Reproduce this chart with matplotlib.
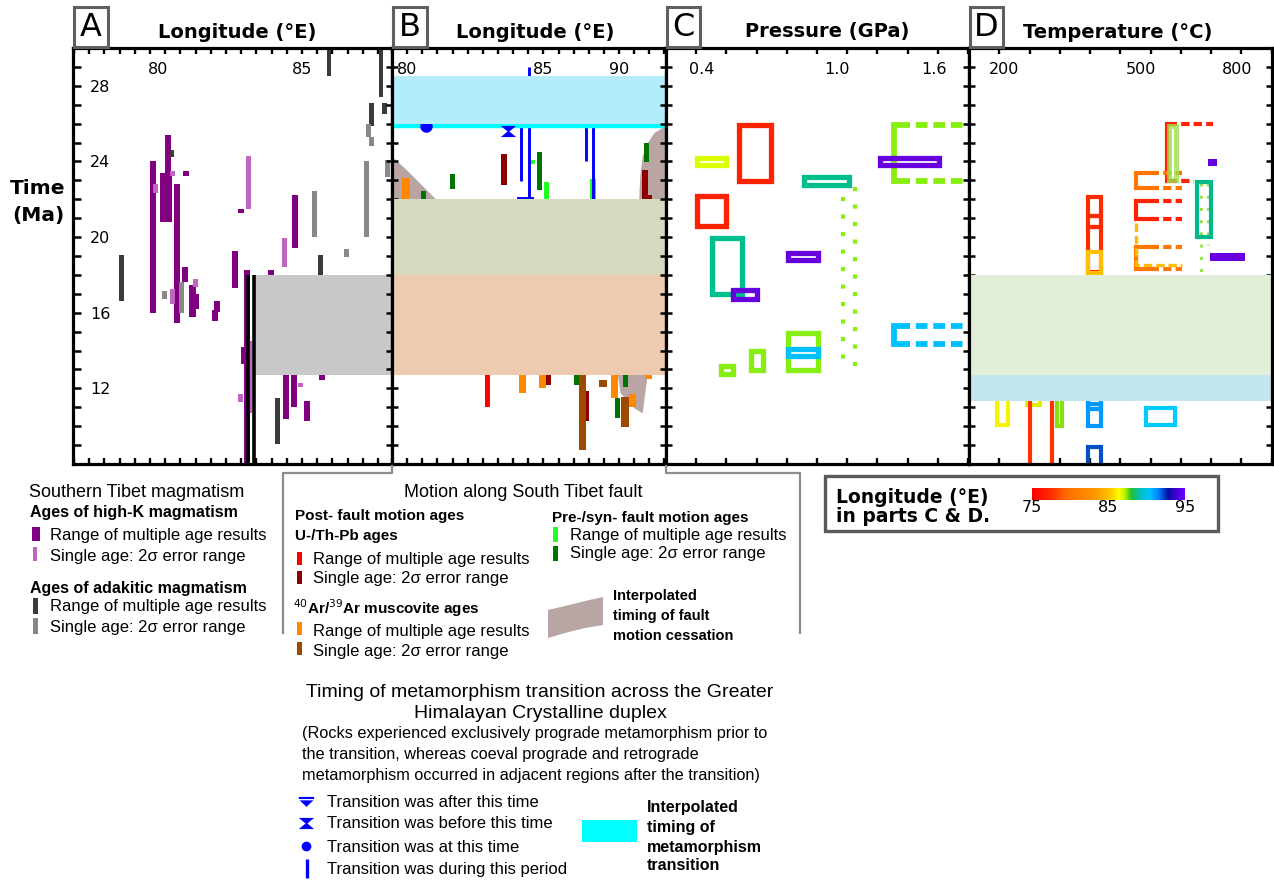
import matplotlib
matplotlib.use('Agg')
import matplotlib.pyplot as plt
import matplotlib.colors as mcolors
from matplotlib.patches import Rectangle, Polygon
from matplotlib.lines import Line2D
from matplotlib.path import Path
from matplotlib.ticker import FixedLocator, MultipleLocator
import numpy as np

plt.rcParams['font.family'] = ['DejaVu Sans']

# ============================ DATA ============================
TIME_LIM = (8.0, 30.0)
TIME_LABELS = [12, 16, 20, 24, 28]

# ---- Panel A: southern Tibet magmatism (longitude °E, youngest Ma, oldest Ma)
highK_range = [(80.10, 16.0, 24.0), (80.42, 20.8, 23.4), (80.62, 20.8, 23.4), (80.58, 23.4, 25.4),
               (80.90, 15.45, 22.8), (81.15, 17.65, 18.4), (81.18, 23.24, 23.5), (81.40, 15.8, 17.47),
               (81.50, 16.2, 17.0), (82.15, 15.58, 16.15), (82.22, 16.06, 16.6), (82.80, 17.3, 19.27),
               (83.20, 8.0, 18.26), (83.10, 13.3, 14.2), (83.98, 17.9, 18.26), (84.47, 10.4, 12.8),
               (84.75, 11.0, 12.8), (84.77, 19.4, 22.2), (85.17, 10.3, 11.33), (85.65, 12.45, 12.7),
               (83.00, 21.26, 21.47)]
highK_single = [(80.18, 22.35, 22.8), (80.75, 23.24, 23.5), (80.75, 16.47, 17.24), (81.50, 17.35, 17.77),
                (83.24, 21.5, 24.3), (84.42, 18.44, 19.96), (82.99, 11.26, 11.7), (84.95, 12.06, 12.3),
                (83.29, 10.7, 14.5)]
adakite_range = [(79.07, 16.6, 19.06), (80.71, 24.23, 24.58), (85.89, 28.5, 30.0), (87.60, 27.4, 30.0),
                 (87.72, 26.5, 27.1), (87.30, 25.9, 27.1), (85.60, 17.95, 19.06), (84.20, 9.04, 11.5)]
adakite_single = [(80.49, 16.73, 17.17), (81.03, 15.97, 17.6), (87.20, 25.3, 26.0), (87.30, 24.8, 25.3),
                  (87.12, 20.0, 24.0), (87.82, 23.2, 24.1), (85.40, 20.03, 22.46), (86.47, 18.97, 19.36)]
A_gray_box = (83.45, 88.2, 12.7, 18.0)       # lon from, lon to, young, old
A_black_lines = [83.24, 83.43]                # longitudes, drawn from 8 to 18 Ma
A_black_span = (8.0, 18.0)

# ---- Panel B: motion along South Tibet fault
uthpb_range = [(81.30, 11.0, 12.7)]
uthpb_single = [(82.42, 22.76, 24.4), (91.73, 22.0, 23.55), (91.98, 22.0, 22.25), (85.30, 12.18, 12.7),
                (87.85, 10.3, 11.88)]
ar_range = [(75.93, 22.0, 23.1), (83.60, 11.77, 12.7), (84.96, 12.04, 12.7), (89.70, 11.47, 12.7),
            (90.87, 11.03, 11.69), (91.95, 12.48, 12.7)]
ar_single = [(87.60, 8.74, 12.7), (88.93, 12.06, 12.44), (90.40, 9.94, 11.56)]
presyn_range = [(84.28, 23.85, 24.1), (85.20, 22.0, 22.9), (88.28, 22.0, 23.08)]
presyn_single = [(77.10, 22.0, 22.46), (78.98, 22.55, 23.34), (84.72, 22.5, 24.5), (91.83, 23.96, 24.97),
                 (87.20, 12.18, 12.7), (90.40, 12.06, 12.7), (89.90, 10.42, 11.47)]
transition_period = [(83.53, 22.95, 25.9), (84.07, 22.0, 29.0), (87.80, 24.0, 25.9), (88.30, 22.0, 25.9)]
transition_cap = (83.30, 84.25, 22.05)
transition_at = [(77.27, 25.85)]
transition_before = [(82.67, 25.6)]
metamorphism_transition_time = 25.88
B_upper_band = (26.0, 28.5)
B_mid_band = (18.0, 22.0)
B_low_band = (12.7, 18.0)
fault_cessation_polys = [
    [(75.0, 24.26), (75.9, 23.6), (76.9, 22.8), (77.9, 22.0), (77.9, 21.5), (75.0, 21.5)],
    [(93.1, 25.88), (92.33, 25.5), (91.9, 24.97), (91.56, 24.26), (91.4, 23.2), (91.33, 22.0),
     (91.33, 21.5), (93.2, 21.5)],
    [(89.93, 13.0), (91.9, 13.0), (91.89, 12.7), (91.67, 11.39), (91.56, 10.68), (91.0, 10.95),
     (90.1, 11.74), (89.93, 12.7)],
]

# ---- Panel C: pressure (GPa) vs time; boxes (P min, P max, t min, t max)
C_boxes = [(0.403, 0.55, 23.79, 24.16), (0.612, 0.773, 22.99, 25.95), (0.403, 0.55, 20.6, 22.16),
           (0.478, 0.627, 16.98, 19.94), (0.582, 0.703, 16.74, 17.18), (0.933, 1.16, 22.77, 23.2),
           (0.857, 1.005, 18.77, 19.15), (0.857, 1.005, 12.96, 14.93), (0.857, 1.005, 13.69, 14.07),
           (0.672, 0.73, 12.96, 13.96), (0.523, 0.583, 12.77, 13.18), (1.312, 1.607, 23.79, 24.16)]
C_box_colors = ['#dcff00', '#ff2200', '#ff2200', '#00bf8f', '#6600dd', '#00bf8f',
                '#6600dd', '#88ee11', '#00c0ff', '#88ee11', '#88ee11', '#6600dd']
# open brackets: (P left, P solid end, P dash end, t min, t max)
C_brackets = [(1.383, 1.46, 1.80, 22.99, 25.95), (1.383, 1.46, 1.80, 14.37, 15.28)]
C_bracket_colors = ['#88ee11', '#00c0ff']
C_dotted = [[(1.127, 22.14), (1.127, 13.3)], [(1.188, 22.65), (1.188, 12.97), (1.155, 12.97)]]
C_dotted_color = '#88ee11'

# ---- Panel D: temperature (°C) vs time
D_boxes = [(419, 452.5, 21.09, 22.14), (419, 452.5, 20.52, 21.09), (419, 452.5, 18.17, 20.52),
           (419, 452.5, 18.1, 19.23), (690.8, 725, 20.01, 22.92), (194, 220.8, 10.04, 12.0),
           (269, 301.7, 11.1, 12.0), (276.7, 331.7, 7.5, 12.0), (344, 356.7, 10.01, 12.0),
           (419, 452.5, 10.01, 10.93), (419, 452.5, 10.93, 11.17), (419, 452.5, 11.17, 12.0),
           (419, 452.5, 7.5, 8.92), (563, 635, 10.05, 10.98)]
D_box_colors = ['#ff2a00', '#ff2a00', '#ff2a00', '#ffbf00', '#00b88a', '#f4f400',
                '#dcf000', '#ff3300', '#88e010', '#0099ff', '#0099ff', '#0099ff',
                '#0050c8', '#00ccff']
D_filled = [(716.7, 740, 23.78, 24.12), (723, 808, 18.76, 19.14)]
D_filled_color = '#6600dd'
# brackets: (T left, T solid end, T dash end top, T dash end bottom, t min, t max)
D_brackets = [(616.7, 641.7, 729, 683, 22.97, 25.97), (540, 595.8, 651.7, 651.7, 22.59, 23.38),
              (540, 595.8, 651.7, 651.7, 20.98, 21.93), (540, 595.8, 651.7, 651.7, 18.30, 19.46)]
D_bracket_colors = ['#ff2200', '#ff7700', '#ff2200', '#ff7700']
D_overlay_box = (620.8, 637.5, 23.0, 25.9)
D_dashed_bracket = [(540, 20.73), (540, 18.52), (651.7, 18.52)]
D_dotted = [[(701, 22.85), (701, 18.0)], [(718, 22.85), (718, 19.6)]]
D_green_band = (12.7, 18.0)
D_blue_band = (11.35, 12.7)

# ---- colour scale for longitude in parts C & D
CB_RANGE = (75, 95)
CB_TICKS = [75, 85, 95]
cb_nodes = [0.0, 0.12, 0.22, 0.42, 0.52, 0.57, 0.61, 0.65, 0.71, 0.77, 0.83, 0.89, 0.94, 1.0]
cb_colors = ['#ff0000', '#ff2a00', '#ff6a00', '#ff9900', '#ffcc00', '#ffff00', '#b0f000', '#20c030',
             '#00c0c0', '#00bfff', '#0080ff', '#0010a0', '#4000d0', '#7000ff']

# ============================ FIGURE ============================
W, H = 1274, 883
fig = plt.figure(figsize=(W / 100, H / 100), dpi=100)


def ax_at(x0, x1, y0=48, y1=464):
    return fig.add_axes([x0 / W, 1 - y1 / H, (x1 - x0) / W, (y1 - y0) / H])


axA = ax_at(73, 392)
axB = ax_at(392, 666)
axC = ax_at(666, 969)
axD = ax_at(969, 1272)


def style(ax, xlim, lab_pos, labs, minor_locs, first=False, last=False):
    ax.set_xlim(*xlim)
    ax.set_ylim(*TIME_LIM)
    for s in ax.spines.values():
        s.set_linewidth(2.3)
        s.set_zorder(10)
    ax.xaxis.remove_overlapping_locs = False
    ax.xaxis.set_major_locator(FixedLocator(lab_pos))
    ax.set_xticklabels(labs)
    ax.xaxis.set_minor_locator(FixedLocator(minor_locs))
    ax.tick_params(axis='x', which='major', length=0, top=True, bottom=False,
                   labeltop=True, labelbottom=False, pad=-21, labelsize=11.5)
    ax.tick_params(axis='x', which='minor', direction='in', length=4.5, width=1.7,
                   top=True, bottom=True)
    ax.yaxis.set_major_locator(FixedLocator(TIME_LABELS))
    ax.yaxis.set_minor_locator(MultipleLocator(1))
    if first:
        ax.tick_params(axis='y', which='both', direction='in', length=6, width=1.8,
                       left=True, right=False)
        ax.tick_params(axis='y', which='major', labelleft=True, pad=-27, labelsize=11.5)
    else:
        ax.tick_params(axis='y', which='both', direction='inout', length=9, width=1.8,
                       left=True, right=last, labelleft=False)


style(axA, (77.47, 87.96), [80.27, 85.0], ['80', '85'], np.arange(77.5, 88.01, 0.5), first=True)
style(axB, (75.0, 93.1), [76.0, 85.0, 90.0], ['80', '85', '90'], np.arange(75, 93.1, 1.0))
style(axC, (0.25, 1.755), [0.425, 1.1, 1.58], ['0.4', '1.0', '1.6'], np.arange(0.25, 1.76, 0.15))
style(axD, (125, 876), [212, 550, 790], ['200', '500', '800'], np.arange(125, 877, 75), last=True)


def bars(ax, data, color, width, z=2):
    lon = [d[0] for d in data]
    young = [d[1] for d in data]
    span = [d[2] - d[1] for d in data]
    ax.bar(lon, span, bottom=young, width=width, color=color, linewidth=0, zorder=z)


# ---------------- Panel A ----------------
bars(axA, highK_range, '#800080', 0.2)
bars(axA, highK_single, '#c066c0', 0.16)
bars(axA, adakite_range, '#3a3a3a', 0.16)
bars(axA, adakite_single, '#888888', 0.16)
axA.fill_between([A_gray_box[0], A_gray_box[1]], A_gray_box[2], A_gray_box[3],
                 color='#c8c8c8', linewidth=0, zorder=3)
axA.vlines(A_black_lines, A_black_span[0], A_black_span[1], color='black', lw=2.6, zorder=4)

# ---------------- Panel B ----------------
for poly in fault_cessation_polys:
    axB.add_patch(Polygon(poly, closed=True, facecolor='#b9a5a3', edgecolor='none', zorder=1))
bars(axB, uthpb_range, '#ff0000', 0.32)
bars(axB, uthpb_single, '#8b0000', 0.38)
bars(axB, ar_range, '#ff8800', 0.48)
bars(axB, ar_single, '#9c4a00', 0.48)
bars(axB, presyn_range, '#22ff22', 0.34)
bars(axB, presyn_single, '#007400', 0.34)
for lon, t0, t1 in transition_period:
    axB.plot([lon, lon], [t0, t1], color='#0000ff', lw=2.1, solid_capstyle='butt', zorder=2.5)
axB.plot([transition_cap[0], transition_cap[1]], [transition_cap[2]] * 2, color='#0000ff', lw=2.1, zorder=2.5)

hourglass = Path([(-1, 0.73), (1, 0.73), (0.12, 0), (1, -0.73), (-1, -0.73), (-0.12, 0), (-1, 0.73)],
                 [Path.MOVETO] + [Path.LINETO] * 5 + [Path.CLOSEPOLY])
after_mark = Path([(-1, 0.6), (1, 0.6), (1, 0.32), (-1, 0.32), (-1, 0.6),
                   (-0.9, 0.15), (0.9, 0.15), (0, -0.7), (-0.9, 0.15)],
                  [Path.MOVETO, Path.LINETO, Path.LINETO, Path.LINETO, Path.CLOSEPOLY,
                   Path.MOVETO, Path.LINETO, Path.LINETO, Path.CLOSEPOLY])

axB.plot([p[0] for p in transition_at], [p[1] for p in transition_at], 'o', color='#0000ff',
         ms=9, mec='none', zorder=2.95)
axB.plot([p[0] for p in transition_before], [p[1] for p in transition_before], marker=hourglass,
         ls='none', color='#0000ff', ms=11, mec='none', zorder=4)
axB.axhline(metamorphism_transition_time, color='#00ffff', lw=3.2, zorder=2.9)
axB.axhspan(*B_upper_band, color='#b3ecfa', lw=0, zorder=3)
axB.axhspan(*B_mid_band, color='#d6dbbf', lw=0, zorder=3)
axB.axhspan(*B_low_band, color='#edcab0', lw=0, zorder=3)

# ---------------- Panel C ----------------
def open_bracket(ax, left, solid_end, dash_top, dash_bot, tmin, tmax, color, lw):
    ax.plot([solid_end, left, left, solid_end], [tmax, tmax, tmin, tmin], color=color, lw=lw,
            solid_joinstyle='miter', solid_capstyle='butt', zorder=2)
    ax.plot([solid_end, dash_top], [tmax, tmax], color=color, lw=lw, ls=(2, (2, 1)),
            dash_capstyle='butt', zorder=2)
    ax.plot([solid_end, dash_bot], [tmin, tmin], color=color, lw=lw, ls=(2, (2, 1)),
            dash_capstyle='butt', zorder=2)


for (l, se, de, t0, t1), c in zip(C_brackets, C_bracket_colors):
    open_bracket(axC, l, se, de, de, t0, t1, c, 4.2)
for line in C_dotted:
    axC.plot([p[0] for p in line], [p[1] for p in line], color=C_dotted_color, lw=3.0,
             ls=(0, (1, 3.2)), dash_capstyle='butt', zorder=2)
for (p0, p1, t0, t1), c in zip(C_boxes, C_box_colors):
    axC.add_patch(Rectangle((p0, t0), p1 - p0, t1 - t0, fill=False, edgecolor=c, lw=3.8,
                            joinstyle='miter', zorder=3))

# ---------------- Panel D ----------------
for (l, se, dt, db, t0, t1), c in zip(D_brackets, D_bracket_colors):
    open_bracket(axD, l, se, dt, db, t0, t1, c, 3.0)
axD.plot([p[0] for p in D_dashed_bracket], [p[1] for p in D_dashed_bracket], color='#ffbb00', lw=2.4,
         ls=(0, (2.5, 1.2)), zorder=2.2)
ob = D_overlay_box
axD.add_patch(Rectangle((ob[0], ob[2]), ob[1] - ob[0], ob[3] - ob[2], fill=False, edgecolor='#9ee04a',
                        lw=3.6, alpha=0.8, zorder=3))
for line in D_dotted:
    axD.plot([p[0] for p in line], [p[1] for p in line], color='#99e050', lw=2.2,
             ls=(0, (1, 3)), dash_capstyle='butt', zorder=2)
for (x0, x1, t0, t1), c in zip(D_boxes, D_box_colors):
    axD.add_patch(Rectangle((x0, t0), x1 - x0, t1 - t0, fill=False, edgecolor=c, lw=3.0,
                            joinstyle='miter', zorder=3))
for (x0, x1, t0, t1) in D_filled:
    axD.add_patch(Rectangle((x0, t0), x1 - x0, t1 - t0, facecolor=D_filled_color, edgecolor='none',
                            zorder=3))
axD.axhspan(*D_green_band, color='#e2efd8', lw=0, zorder=5)
axD.axhspan(*D_blue_band, color='#c3e6ef', lw=0, zorder=5)

# ============================ FIGURE-LEVEL ANNOTATIONS ============================
LEG = 'Liberation Sans'


def T(x, y, s, size=12, weight='normal', ha='left', va='baseline', family=LEG, **kw):
    fig.text(x / W, 1 - y / H, s, fontsize=size, fontweight=weight, ha=ha, va=va, family=family, **kw)


def R(x0, y0, x1, y1, fc, ec='none', lw=0, z=1):
    fig.add_artist(Rectangle((x0 / W, 1 - y1 / H), (x1 - x0) / W, (y1 - y0) / H,
                             transform=fig.transFigure, facecolor=fc, edgecolor=ec, linewidth=lw, zorder=z))


def L(xs, ys, **kw):
    fig.add_artist(Line2D([x / W for x in xs], [1 - y / H for y in ys], transform=fig.transFigure, **kw))


# panel letters and titles
for (x0, x1), letter in zip([(74, 108), (393, 427), (667, 700), (970, 1003)], 'ABCD'):
    R(x0, 7, x1, 47, 'white', ec='#606060', lw=2.2)
    T((x0 + x1) / 2, 28, letter, size=23, ha='center', va='center', family='DejaVu Sans')
for xc, title in zip([237, 535, 827, 1118],
                     ['Longitude (°E)', 'Longitude (°E)', 'Pressure (GPa)', 'Temperature (°C)']):
    T(xc, 32, title, size=14, weight='bold', ha='center', va='center', family='DejaVu Sans')
T(38, 189, 'Time', size=14.5, weight='bold', ha='center', va='center', family='DejaVu Sans')
T(38, 215, '(Ma)', size=14.5, weight='bold', ha='center', va='center', family='DejaVu Sans')

# connectors to the fault legend
L([392, 392, 283, 283], [466, 473, 473, 633], color='#8c8c8c', lw=1.6)
L([666, 666, 800, 800], [466, 473, 473, 633], color='#8c8c8c', lw=1.6)

# legend A
T(29, 497, 'Southern Tibet magmatism', 13)
T(30, 517, 'Ages of high-K magmatism', 11.5, 'bold')
R(32, 527, 40, 541, '#800080'); T(50, 540, 'Range of multiple age results')
R(33, 547, 37, 561, '#c066c0'); T(50, 561, 'Single age: 2σ error range')
T(30, 593, 'Ages of adakitic magmatism', 11.5, 'bold')
R(33, 598, 38, 614, '#3a3a3a'); T(50, 611, 'Range of multiple age results')
R(33, 618, 38, 634, '#888888'); T(50, 632, 'Single age: 2σ error range')

# legend B
T(523, 497, 'Motion along South Tibet fault', 13, ha='center')
T(295, 520, 'Post- fault motion ages', 11, 'bold')
T(295, 540, 'U-/Th-Pb ages', 11, 'bold')
R(297, 552, 302, 565, '#ff0000'); T(313, 564, 'Range of multiple age results')
R(297, 571, 302, 584, '#8b0000'); T(313, 583, 'Single age: 2σ error range')
T(293, 614, r'$^{40}$Ar/$^{39}$Ar muscovite ages', 11, 'bold')
R(297, 622, 302, 635, '#ff8800'); T(313, 636, 'Range of multiple age results')
R(297, 642, 302, 655, '#9c4a00'); T(313, 656, 'Single age: 2σ error range')
T(552, 522, 'Pre-/syn- fault motion ages', 11, 'bold')
R(553, 527, 558, 542, '#22ff22'); T(570, 540, 'Range of multiple age results')
R(553, 546, 558, 561, '#007400'); T(570, 558, 'Single age: 2σ error range')
fig.add_artist(Polygon([((548) / W, 1 - 610 / H), (565 / W, 1 - 606 / H), (585 / W, 1 - 601 / H),
                        (603 / W, 1 - 597 / H), (603 / W, 1 - 625 / H), (585 / W, 1 - 628 / H),
                        (565 / W, 1 - 633 / H), (548 / W, 1 - 638 / H)],
                       closed=True, transform=fig.transFigure, facecolor='#b9a5a3', edgecolor='none'))
T(613, 600, 'Interpolated', 10.5, 'bold')
T(613, 620, 'timing of fault', 10.5, 'bold')
T(613, 640, 'motion cessation', 10.5, 'bold')

# legend: metamorphism transition
T(540, 697, 'Timing of metamorphism transition across the Greater', 14, ha='center')
T(540, 718, 'Himalayan Crystalline duplex', 14, ha='center')
T(302, 738, '(Rocks experienced exclusively prograde metamorphism prior to', 11.7)
T(302, 759, 'the transition, whereas coeval prograde and retrograde', 11.7)
T(302, 780, 'metamorphism occurred in adjacent regions after the transition)', 11.7)
L([306], [801], marker=after_mark, ls='none', color='#0000ff', ms=11, mec='none')
L([306], [823], marker=hourglass, ls='none', color='#0000ff', ms=11, mec='none')
L([306], [846], marker='o', ls='none', color='#0000ff', ms=7, mec='none')
L([307, 307], [859, 878], color='#0000ff', lw=2.4, solid_capstyle='butt')
T(327, 807, 'Transition was after this time')
T(327, 828, 'Transition was before this time')
T(327, 852, 'Transition was at this time')
T(327, 874, 'Transition was during this period')
R(582, 820, 637, 842, '#00ffff')
T(647, 812, 'Interpolated', 11.5, 'bold')
T(647, 832, 'timing of', 11.5, 'bold')
T(647, 852, 'metamorphism', 11.5, 'bold')
T(647, 870, 'transition', 11.5, 'bold')

# colour-bar legend box
R(825, 476, 1218, 531, 'none', ec='#5a5a5a', lw=2.4)
T(836, 503, 'Longitude (°E)', 13.5, 'bold', family='DejaVu Sans')
T(836, 522, 'in parts C & D.', 13.5, 'bold', family='DejaVu Sans')
cmap = mcolors.LinearSegmentedColormap.from_list('lon', list(zip(cb_nodes, cb_colors)))
cax = fig.add_axes([1032 / W, 1 - 500 / H, 153 / W, 12 / H])
sm = plt.cm.ScalarMappable(norm=mcolors.Normalize(*CB_RANGE), cmap=cmap)
cb = fig.colorbar(sm, cax=cax, orientation='horizontal', ticks=CB_TICKS)
cb.outline.set_visible(False)
cax.tick_params(length=0, pad=0, labelsize=11.5)

fig.savefig('out.png', dpi=100)
